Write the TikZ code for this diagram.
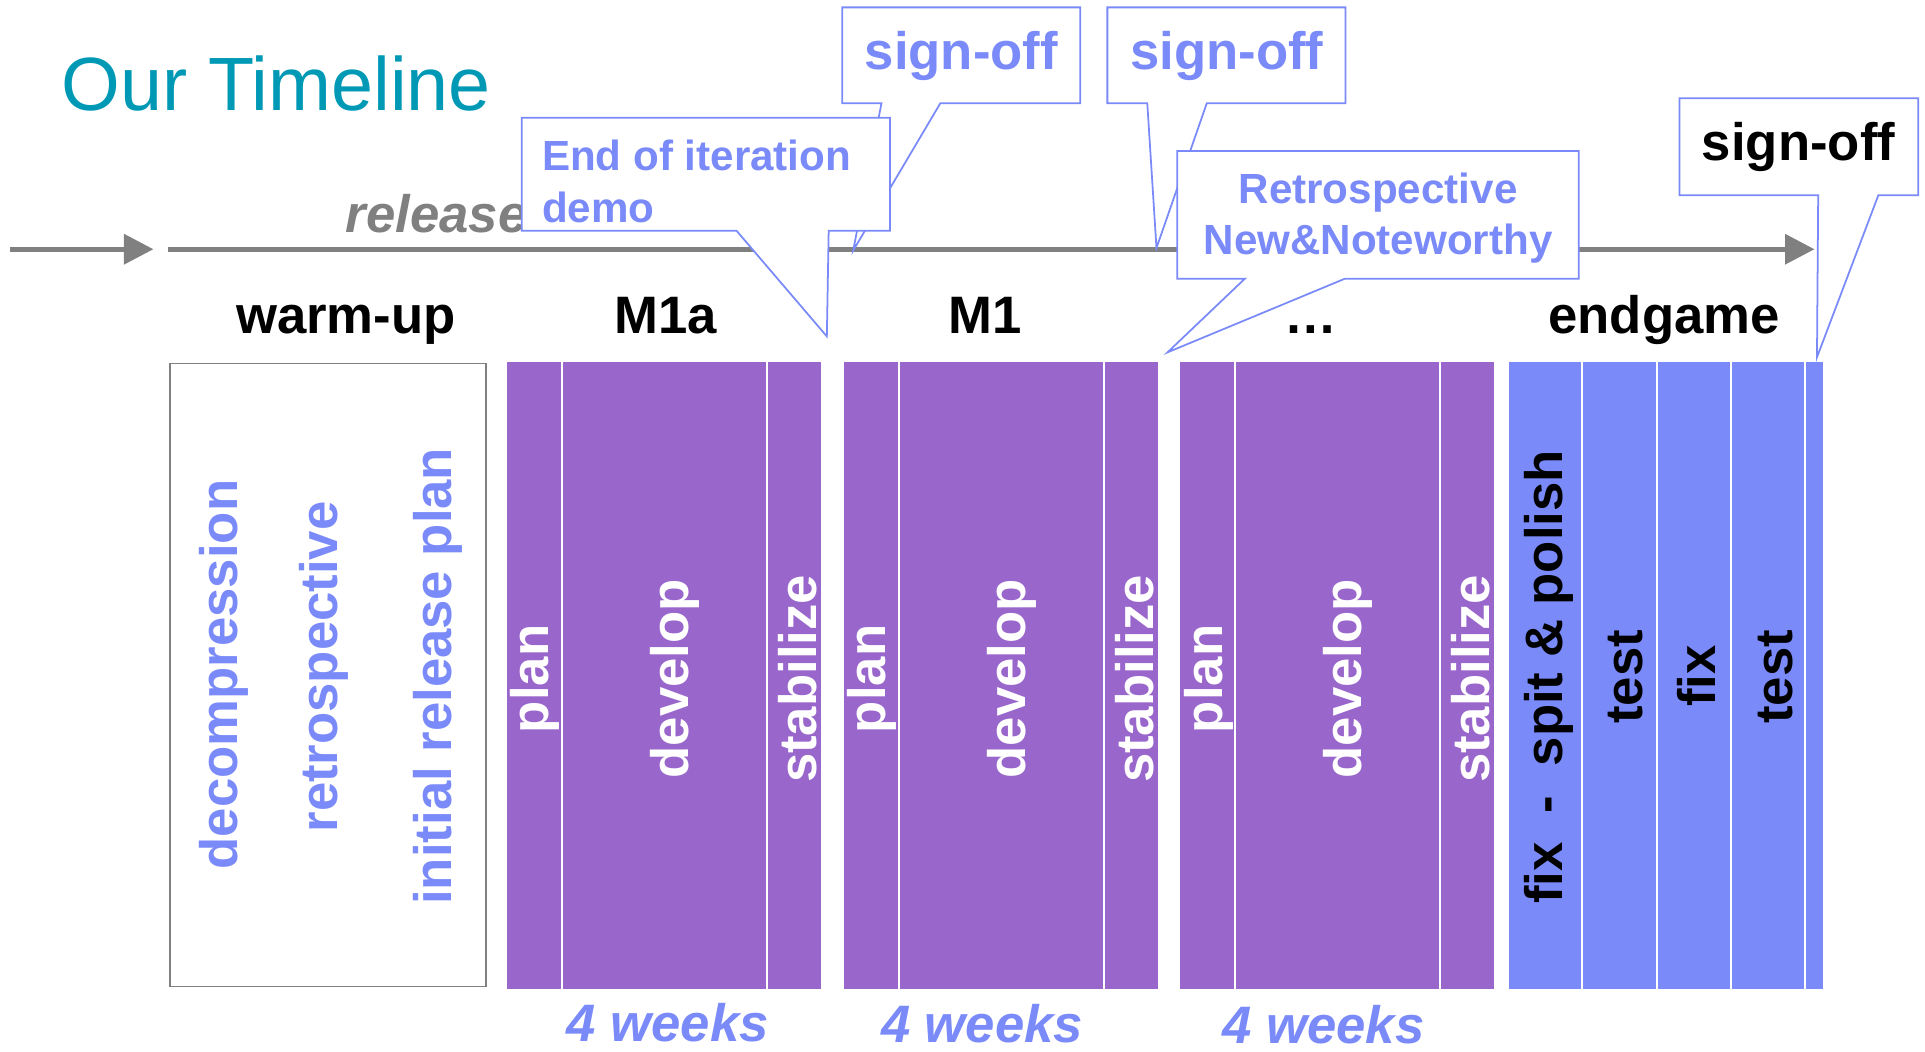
\documentclass[tikz,border=0pt]{standalone}
\usepackage{fontspec}
\setmainfont{Liberation Sans}
\usetikzlibrary{arrows.meta}

\definecolor{lilac}{RGB}{122,138,248}
\definecolor{iterpurple}{RGB}{153,102,204}
\definecolor{titleteal}{RGB}{0,153,181}
\definecolor{axisgray}{RGB}{128,128,128}

\tikzset{
  label15/.style={font=\bfseries\fontsize{15}{18}\selectfont},
  phase/.style={label15, anchor=base, inner sep=0pt},
  vlabel/.style={label15, rotate=90, inner sep=0pt},
  weeks/.style={font=\bfseries\itshape\fontsize{15}{18}\selectfont, text=lilac, anchor=base, inner sep=0pt},
  callout/.style={draw=lilac, fill=white, line width=0.5pt},
  bubbletext/.style={font=\bfseries\fontsize{12}{14.7}\selectfont, text=lilac, inner sep=0pt},
  divider/.style={white, line width=0.6pt},
  timeline/.style={axisgray, line width=1.4pt, -{Triangle[length=8.4pt,width=8.4pt]}}
}

\begin{document}
\begin{tikzpicture}[x=0.0122768cm, y=-0.0122768cm]
\useasboundingbox (0,0) rectangle (1568,856.1);

% Title
\node[anchor=base west, inner sep=0pt, text=titleteal, font=\fontsize{21.5}{26}\selectfont] (title) at (49.5,89.6) {Our Timeline};

% Timeline
\coordinate (t0) at (8,203);
\coordinate (t1) at (125,203);
\coordinate (t2) at (137,203);
\coordinate (t3) at (1478,203);
\draw[timeline] (t0) -- (t1);
\draw[timeline] (t2) -- (t3);
\node[anchor=base west, inner sep=0pt, text=axisgray, font=\bfseries\itshape\fontsize{15}{18}\selectfont] (release) at (281,189) {release};

% Callouts
\filldraw[callout] (686,6) -- (880,6) -- (880,84) -- (766,84) -- (695,204) -- (718,84) -- (686,84) -- cycle;
\node[label15, text=lilac] (signoff1) at (783,46) {sign-off};

\filldraw[callout] (902,6) -- (1096,6) -- (1096,84) -- (983,84) -- (942,202) -- (934.5,84) -- (902,84) -- cycle;
\node[label15, text=lilac] (signoff2) at (999.3,46) {sign-off};

\filldraw[callout] (425,96) -- (725,96) -- (725,188) -- (675,188) -- (673.5,274) -- (600,188) -- (425,188) -- cycle;
\node[bubbletext, anchor=west, align=left] (demo) at (441,148) {End of iteration\\demo};

\filldraw[callout] (959,123) -- (1286,123) -- (1286,227) -- (1095.5,227) -- (951,287) -- (1014,227) -- (959,227) -- cycle;
\node[bubbletext, align=center] (retro) at (1122.5,177.7) {Retrospective\\New\&Noteworthy};

\filldraw[callout] (1368,80) -- (1562.5,80) -- (1562.5,159) -- (1530,159) -- (1480,291) -- (1481,159) -- (1368,159) -- cycle;
\node[label15] (signoff3) at (1465,120) {sign-off};

% Phases
\node[phase] (warmup) at (281.8,271.5) {warm-up};
\node[phase] (m1a) at (542,271.5) {M1a};
\node[phase] (m1) at (802.5,271.5) {M1};
\node[phase] (more) at (1068,271.5) {…};
\node[phase] (endgame) at (1355.4,271.5) {endgame};

% Warm-up
\draw[axisgray, line width=0.5pt] (138.5,296) rectangle (396,803.5);
\node[vlabel, text=lilac] (decomp) at (182.7,549.4) {decompression};
\node[vlabel, text=lilac] (retrowu) at (264,543.3) {retrospective};
\node[vlabel, text=lilac] (relplan) at (356.7,550.8) {initial release plan};

% M1a
\fill[iterpurple] (413,295) rectangle (668.5,805.5);
\draw[divider] (457.5,295) -- (457.5,805.5);
\draw[divider] (624.5,295) -- (624.5,805.5);
\node[vlabel, white] (plan1) at (435.8,553) {plan};
\node[vlabel, white] (dev1) at (549.4,553) {develop};
\node[vlabel, white] (stab1) at (649.5,553) {stabilize};

% M1
\fill[iterpurple] (687.5,295) rectangle (943,805.5);
\draw[divider] (732,295) -- (732,805.5);
\draw[divider] (899,295) -- (899,805.5);
\node[vlabel, white] (plan2) at (710.3,553) {plan};
\node[vlabel, white] (dev2) at (823.9,553) {develop};
\node[vlabel, white] (stab2) at (924,553) {stabilize};

% ...
\fill[iterpurple] (961.5,295) rectangle (1217,805.5);
\draw[divider] (1006,295) -- (1006,805.5);
\draw[divider] (1173,295) -- (1173,805.5);
\node[vlabel, white] (plan3) at (984.3,553) {plan};
\node[vlabel, white] (dev3) at (1097.9,553) {develop};
\node[vlabel, white] (stab3) at (1198,553) {stabilize};

% Endgame
\fill[lilac] (1229,295) rectangle (1485,805.5);
\draw[divider] (1288.5,295) -- (1288.5,805.5);
\draw[divider] (1349.5,295) -- (1349.5,805.5);
\draw[divider] (1410,295) -- (1410,805.5);
\draw[divider] (1470.5,295) -- (1470.5,805.5);
\node[vlabel] (polish) at (1261.5,551.4) {fix\ \ -\ \ spit \& polish};
\node[vlabel] (test1) at (1324.3,551.4) {test};
\node[vlabel] (fix) at (1381.4,550.6) {fix};
\node[vlabel] (test2) at (1446.5,551.4) {test};

% Durations
\node[weeks] (wk1) at (544,848) {4 weeks};
\node[weeks] (wk2) at (800,849.5) {4 weeks};
\node[weeks] (wk3) at (1078,850) {4 weeks};
\end{tikzpicture}
\end{document}
